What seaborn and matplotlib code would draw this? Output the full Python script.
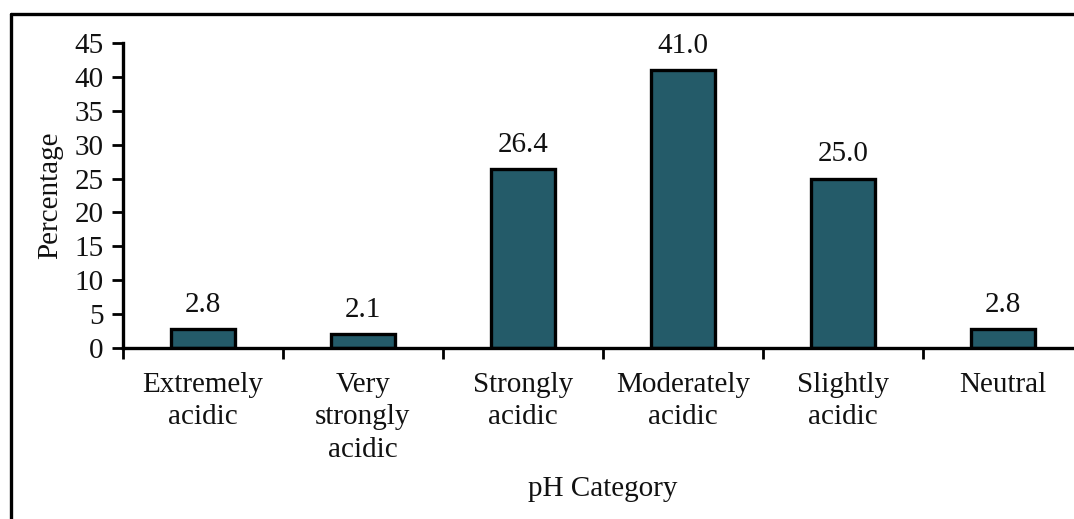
import matplotlib
matplotlib.use("Agg")
import matplotlib.pyplot as plt
from matplotlib.lines import Line2D
import seaborn as sns
import pandas as pd

categories = ["Extremely\nacidic", "Very\nstrongly\nacidic", "Strongly\nacidic",
              "Moderately\nacidic", "Slightly\nacidic", "Neutral"]
percentages = [2.8, 2.1, 26.4, 41.0, 25.0, 2.8]
y_ticks = [0, 5, 10, 15, 20, 25, 30, 35, 40, 45]

df = pd.DataFrame({"category": categories, "pct": percentages})

sns.set_style("white")
plt.rcParams["font.family"] = ["Liberation Serif", "DejaVu Serif"]
FS = 21
plt.rcParams["font.size"] = FS

W, H = 1074, 519
fig = plt.figure(figsize=(W / 100, H / 100), dpi=100)
ax = fig.add_axes([123 / W, 1 - 348 / H, 960 / W, 305 / H])

sns.barplot(data=df, x="category", y="pct", color="#245B69", width=0.4,
            edgecolor="black", linewidth=2.4, saturation=1, ax=ax)

for i, v in enumerate(percentages):
    ax.annotate(f"{v:.1f}", (i, v), xytext=(0, 8), textcoords="offset points",
                ha="center", va="bottom", fontsize=FS, color="#111111")

ax.set_xlim(-0.5, 5.5)
ax.set_ylim(0, 45)
ax.set_yticks(y_ticks)
ax.set_xticks(range(len(categories)))
ax.set_xticklabels(categories, linespacing=1.33)
ax.set_xticks([i - 0.5 for i in range(len(categories) + 1)], minor=True)
ax.tick_params(axis="x", which="major", length=0, pad=17, labelsize=FS, colors="#111111")
ax.tick_params(axis="x", which="minor", length=8, width=2, direction="out", color="black", bottom=True)
ax.tick_params(axis="y", length=8, width=2, direction="out", color="black", left=True,
               pad=6, labelsize=FS, labelcolor="#111111")

for s in ["top", "right"]:
    ax.spines[s].set_visible(False)
for s in ["left", "bottom"]:
    ax.spines[s].set_linewidth(2.4)
    ax.spines[s].set_color("black")

ax.set_ylabel("Percentage", fontsize=FS, labelpad=8, color="#111111")
ax.set_xlabel("pH Category", fontsize=FS, color="#111111")
ax.xaxis.set_label_coords((603 - 123) / 960, -(476 - 348) / 305)

# outer frame
fig.add_artist(Line2D([10.5 / W, 10.5 / W], [1 - 14 / H, 0], transform=fig.transFigure,
                      color="black", linewidth=2.4))
fig.add_artist(Line2D([10.5 / W, 1], [1 - 14 / H, 1 - 14 / H], transform=fig.transFigure,
                      color="black", linewidth=2.4))

fig.savefig("out.png", dpi=100, facecolor="white")
